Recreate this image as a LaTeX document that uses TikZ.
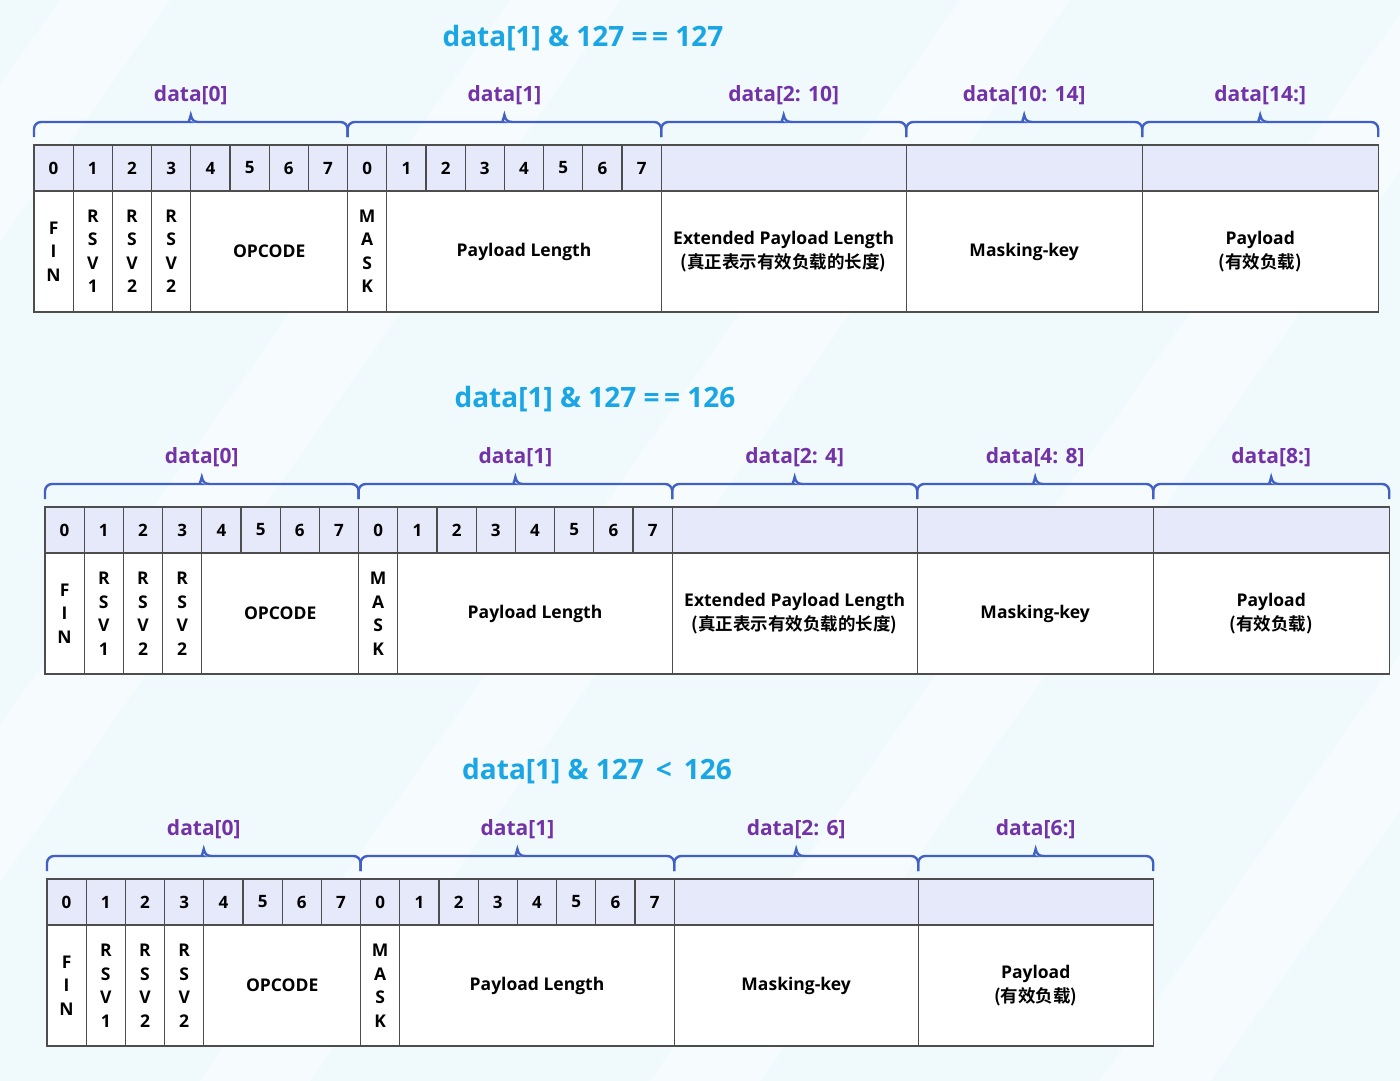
\documentclass[tikz,border=0pt]{standalone}
\usepackage{fontspec}
\setmainfont{Open Sans}
\newfontfamily\cjk{Noto Sans CJK SC}[BoldFont={Noto Sans CJK SC Bold}]
\usetikzlibrary{positioning,calc}
\definecolor{wsBg}{HTML}{F0FAFD}
\definecolor{wsCyan}{HTML}{1AA6E4}
\definecolor{wsPurple}{HTML}{7332A6}
\definecolor{wsBrace}{HTML}{4160C6}
\definecolor{wsHead}{HTML}{E6E9FA}
\definecolor{wsLine}{HTML}{4D4D4D}
% brace over a field: left anchor, right anchor, label name, label text
\newcommand{\bytebrace}[4]{%
  \coordinate (bl) at ([yshift=8pt]#1);
  \coordinate (br) at ([yshift=8pt]#2);
  \coordinate (bm) at ($(bl)!.5!(br)$);
  \draw[brc] (bl) [rounded corners=7pt] |- ($(bm)+(-8,15)$) [sharp corners]
    .. controls +(5,0) and +(-1,-5) .. ($(bm)+(0,22)$)
    .. controls +(1,-5) and +(-5,0) .. ($(bm)+(8,15)$)
    [rounded corners=7pt] -| (br);
  \node[lbl] (#3) at ($(bm)+(0,42)$) {#4};}

\begin{document}
\begin{tikzpicture}[x=1pt,y=1pt,
  bit/.style={draw=wsLine,line width=1.2pt,fill=wsHead,minimum width=39.2pt,
    minimum height=46pt,inner sep=0pt,outer sep=0pt,
    font=\fontsize{17}{20}\selectfont\bfseries},
  field/.style={draw=wsLine,line width=1.2pt,fill=white,minimum width=#1,
    minimum height=121pt,inner sep=0pt,outer sep=0pt,align=center,
    font=\fontsize{17.5}{23.5}\selectfont\bfseries},
  ttl/.style={text=wsCyan,font=\fontsize{28}{32}\selectfont\bfseries},
  lbl/.style={text=wsPurple,font=\fontsize{21}{25}\selectfont\bfseries},
  brc/.style={draw=wsBrace,line width=2.4pt}]
  \useasboundingbox (0,0) rectangle (1400,-1081);
  % fond
  \fill[wsBg] (0,0) rectangle (1400,-1081);
  \begin{scope}
    \clip (0,0) rectangle (1400,-1081);
    \foreach \s in {-700,-250,200,650,1100}
      \fill[white,opacity=.45] (\s,-1081) -- ++(110,0) -- ++(760,1081) -- ++(-110,0) -- cycle;
  \end{scope}

  % data[1] & 127 == 127
  \node[ttl] (t1) at (583,-38) {data[1] \& 127 =\,= 127};
  \node[bit,anchor=north west] (p1a0) at (34,-145) {0};
  \foreach \i [count=\j from 0] in {1,...,7} \node[bit,right=0pt of p1a\j] (p1a\i) {\i};
  \node[bit,right=0pt of p1a7] (p1b0) {0};
  \foreach \i [count=\j from 0] in {1,...,7} \node[bit,right=0pt of p1b\j] (p1b\i) {\i};
  \node[bit,right=0pt of p1b7,minimum width=245pt] (p1x) {};
  \node[bit,right=0pt of p1x,minimum width=236pt] (p1m) {};
  \node[bit,right=0pt of p1m,minimum width=236pt] (p1p) {};
  \node[field=39.2pt,anchor=north west] (p1fin) at (p1a0.south west) {F\\I\\N};
  \node[field=39.2pt,right=0pt of p1fin] (p1r1) {R\\S\\V\\1};
  \node[field=39.2pt,right=0pt of p1r1] (p1r2) {R\\S\\V\\2};
  \node[field=39.2pt,right=0pt of p1r2] (p1r3) {R\\S\\V\\2};
  \node[field=156.8pt,right=0pt of p1r3] (p1op) {OPCODE};
  \node[field=39.2pt,right=0pt of p1op] (p1mask) {M\\A\\S\\K};
  \node[field=274.4pt,right=0pt of p1mask] (p1len) {Payload Length};
  \node[field=245pt,right=0pt of p1len] (p1ext) {Extended Payload Length\\{\cjk\bfseries (真正表示有效负载的长度)}};
  \node[field=236pt,right=0pt of p1ext] (p1key) {Masking-key};
  \node[field=236pt,right=0pt of p1key] (p1pay) {Payload\\{\cjk\bfseries (有效负载)}};
  \bytebrace{p1a0.north west}{p1a7.north east}{p1l0}{data[0]}
  \bytebrace{p1b0.north west}{p1b7.north east}{p1l1}{data[1]}
  \bytebrace{p1x.north west}{p1x.north east}{p1l2}{data[2: 10]}
  \bytebrace{p1m.north west}{p1m.north east}{p1l3}{data[10: 14]}
  \bytebrace{p1p.north west}{p1p.north east}{p1l4}{data[14:]}

  % data[1] & 127 == 126
  \node[ttl] (t2) at (595,-399) {data[1] \& 127 =\,= 126};
  \node[bit,anchor=north west] (p2a0) at (45,-507) {0};
  \foreach \i [count=\j from 0] in {1,...,7} \node[bit,right=0pt of p2a\j] (p2a\i) {\i};
  \node[bit,right=0pt of p2a7] (p2b0) {0};
  \foreach \i [count=\j from 0] in {1,...,7} \node[bit,right=0pt of p2b\j] (p2b\i) {\i};
  \node[bit,right=0pt of p2b7,minimum width=245pt] (p2x) {};
  \node[bit,right=0pt of p2x,minimum width=236pt] (p2m) {};
  \node[bit,right=0pt of p2m,minimum width=236pt] (p2p) {};
  \node[field=39.2pt,anchor=north west] (p2fin) at (p2a0.south west) {F\\I\\N};
  \node[field=39.2pt,right=0pt of p2fin] (p2r1) {R\\S\\V\\1};
  \node[field=39.2pt,right=0pt of p2r1] (p2r2) {R\\S\\V\\2};
  \node[field=39.2pt,right=0pt of p2r2] (p2r3) {R\\S\\V\\2};
  \node[field=156.8pt,right=0pt of p2r3] (p2op) {OPCODE};
  \node[field=39.2pt,right=0pt of p2op] (p2mask) {M\\A\\S\\K};
  \node[field=274.4pt,right=0pt of p2mask] (p2len) {Payload Length};
  \node[field=245pt,right=0pt of p2len] (p2ext) {Extended Payload Length\\{\cjk\bfseries (真正表示有效负载的长度)}};
  \node[field=236pt,right=0pt of p2ext] (p2key) {Masking-key};
  \node[field=236pt,right=0pt of p2key] (p2pay) {Payload\\{\cjk\bfseries (有效负载)}};
  \bytebrace{p2a0.north west}{p2a7.north east}{p2l0}{data[0]}
  \bytebrace{p2b0.north west}{p2b7.north east}{p2l1}{data[1]}
  \bytebrace{p2x.north west}{p2x.north east}{p2l2}{data[2: 4]}
  \bytebrace{p2m.north west}{p2m.north east}{p2l3}{data[4: 8]}
  \bytebrace{p2p.north west}{p2p.north east}{p2l4}{data[8:]}

  % data[1] & 127 < 126
  \node[ttl] (t3) at (597,-771) {data[1] \& 127 \,<\, 126};
  \node[bit,anchor=north west] (p3a0) at (47,-879) {0};
  \foreach \i [count=\j from 0] in {1,...,7} \node[bit,right=0pt of p3a\j] (p3a\i) {\i};
  \node[bit,right=0pt of p3a7] (p3b0) {0};
  \foreach \i [count=\j from 0] in {1,...,7} \node[bit,right=0pt of p3b\j] (p3b\i) {\i};
  \node[bit,right=0pt of p3b7,minimum width=244pt] (p3m) {};
  \node[bit,right=0pt of p3m,minimum width=235pt] (p3p) {};
  \node[field=39.2pt,anchor=north west] (p3fin) at (p3a0.south west) {F\\I\\N};
  \node[field=39.2pt,right=0pt of p3fin] (p3r1) {R\\S\\V\\1};
  \node[field=39.2pt,right=0pt of p3r1] (p3r2) {R\\S\\V\\2};
  \node[field=39.2pt,right=0pt of p3r2] (p3r3) {R\\S\\V\\2};
  \node[field=156.8pt,right=0pt of p3r3] (p3op) {OPCODE};
  \node[field=39.2pt,right=0pt of p3op] (p3mask) {M\\A\\S\\K};
  \node[field=274.4pt,right=0pt of p3mask] (p3len) {Payload Length};
  \node[field=244pt,right=0pt of p3len] (p3key) {Masking-key};
  \node[field=235pt,right=0pt of p3key] (p3pay) {Payload\\{\cjk\bfseries (有效负载)}};
  \bytebrace{p3a0.north west}{p3a7.north east}{p3l0}{data[0]}
  \bytebrace{p3b0.north west}{p3b7.north east}{p3l1}{data[1]}
  \bytebrace{p3m.north west}{p3m.north east}{p3l2}{data[2: 6]}
  \bytebrace{p3p.north west}{p3p.north east}{p3l3}{data[6:]}
\end{tikzpicture}
\end{document}
